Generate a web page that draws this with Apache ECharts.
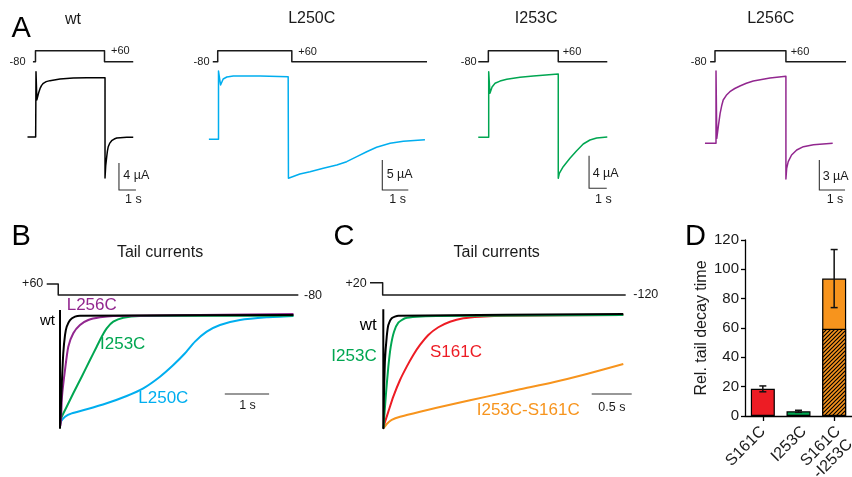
<!DOCTYPE html>
<html>
<head>
<meta charset="utf-8">
<script src="https://cdn.jsdelivr.net/npm/echarts@6/dist/echarts.min.js"></script>
<style>html,body{margin:0;padding:0;background:#fff}#chart{width:852px;height:477px}</style>
</head>
<body>
<div id="chart"></div>
<script>
// ===================== DATA =====================
// Panel A: current traces, [time (s), current (µA)]
const wtTraceA = [[-0.5,0],[-0.02,0],[0,9.67],[0.05,5.5],[0.08,5.78],[0.16,6.6],[0.24,7.2],[0.33,7.65],[0.43,7.95],[0.6,8.2],[0.82,8.35],[1.41,8.6],[2.19,8.74],[2.98,8.79],[4.06,8.79],[4.06,-6.07],[4.1,-4.3],[4.16,-2.92],[4.2,-2.1],[4.25,-1.44],[4.33,-0.95],[4.45,-0.55],[4.6,-0.3],[4.75,-0.15],[5.34,-0.05],[5.72,-0.05]];
const l250cTraceA = [[-0.37,0],[0,0],[0,11.38],[0.08,9.05],[0.18,10.05],[0.32,10.38],[0.57,10.55],[1.6,10.55],[2.68,10.43],[2.69,-6.5],[2.75,-6.23],[3.13,-5.78],[3.52,-5.4],[4.03,-4.83],[4.55,-4.28],[4.93,-3.73],[5.32,-2.9],[5.7,-2.07],[6.08,-1.33],[6.6,-0.67],[7.11,-0.33],[7.94,-0.07]];
const i253cTraceA = [[-0.59,0],[0,0],[0,8.05],[0.07,5.4],[0.19,6.17],[0.36,6.63],[0.64,6.9],[1.02,7.12],[1.77,7.36],[2.52,7.52],[3.93,7.77],[3.93,-5.03],[3.99,-4.42],[4.21,-3.61],[4.59,-2.58],[4.97,-1.64],[5.34,-0.82],[5.72,-0.33],[6.1,-0.09],[6.7,0.04]];
const l256cTraceA = [[-0.41,0],[0.02,0],[0.02,7.23],[0.05,0.5],[0.07,0.66],[0.12,1.9],[0.18,3.0],[0.24,3.75],[0.3,4.33],[0.42,4.8],[0.56,5.16],[0.75,5.48],[0.95,5.73],[1.2,6.0],[1.47,6.23],[2.12,6.53],[2.74,6.7],[2.74,-3.57],[2.77,-2.5],[2.83,-1.84],[2.96,-1.17],[3.16,-0.67],[3.42,-0.34],[3.81,-0.14],[4.56,0]];
// Panel A: voltage protocols, [time (s), mV]
const wtProtocolA = [[-0.18,-80],[-0.03,-80],[-0.03,60],[4.03,60],[4.03,-80],[5.72,-80]];
const l250cProtocolA = [[-0.22,-80],[-0.03,-80],[-0.03,60],[2.82,60],[2.82,-80],[8.02,-80]];
const i253cProtocolA = [[-0.59,-80],[-0.02,-80],[-0.02,60],[3.93,60],[3.93,-80],[6.7,-80]];
const l256cProtocolA = [[-0.21,-80],[-0.02,-80],[-0.02,60],[2.74,60],[2.74,-80],[5.08,-80]];
// Panel A: scale bars, [time (s), µA]  (vertical: 4/5/4/3 µA, horizontal: 1 s)
const wtScaleA = [[4.88,-3.85],[4.88,-7.85],[5.88,-7.85]];
const l250cScaleA = [[6.3,-3.45],[6.3,-8.45],[7.3,-8.45]];
const i253cScaleA = [[5.67,-2.26],[5.67,-6.26],[6.67,-6.26]];
const l256cScaleA = [[4.04,-1.67],[4.04,-4.67],[5.04,-4.67]];

// Panel B: normalized tail currents, [time (s), normalized current]
const wtTailB = [[0,0.054],[0,-1.0],[0.038,-0.63],[0.074,-0.333],[0.113,-0.17],[0.151,-0.096],[0.226,-0.036],[0.339,-0.006],[0.451,0.003],[5.27,0.009]];
const l256cTailB = [[0.01,-0.98],[0.023,-0.929],[0.045,-0.72],[0.113,-0.482],[0.187,-0.274],[0.3,-0.154],[0.451,-0.08],[0.639,-0.036],[0.903,-0.012],[1.2,0],[5.27,0.018]];
const i253cTailB = [[0.01,-0.96],[0.023,-0.914],[0.151,-0.81],[0.3,-0.69],[0.49,-0.542],[0.677,-0.393],[0.828,-0.274],[0.941,-0.185],[1.054,-0.11],[1.203,-0.051],[1.429,-0.015],[1.806,0],[5.27,0.003]];
const l250cTailB = [[0.005,-0.96],[0.016,-0.944],[0.113,-0.899],[0.264,-0.869],[0.603,-0.833],[1.054,-0.779],[1.505,-0.714],[1.88,-0.646],[2.257,-0.542],[2.558,-0.438],[2.822,-0.333],[3.047,-0.229],[3.312,-0.14],[3.612,-0.08],[4.063,-0.036],[4.665,-0.012],[5.267,0]];
const protocolB = [[-0.3,60],[-0.04,60],[-0.04,-80],[5.38,-80]];
const scaleB = [[3.72,-0.696],[4.72,-0.696]];   // 1 s

// Panel C: normalized tail currents
const wtTailC = [[0,0.06],[0,-1.0],[0.009,-0.688],[0.021,-0.392],[0.043,-0.184],[0.063,-0.08],[0.105,-0.02],[0.188,0.003],[3.0,0.018]];
const i253cTailC = [[0.003,-1.0],[0.009,-0.926],[0.034,-0.688],[0.063,-0.451],[0.093,-0.273],[0.134,-0.14],[0.188,-0.06],[0.271,-0.02],[0.417,-0.006],[0.667,0],[3.0,0.009]];
const s161cTailC = [[0.003,-1.0],[0.009,-0.971],[0.063,-0.852],[0.125,-0.718],[0.209,-0.57],[0.293,-0.451],[0.375,-0.347],[0.459,-0.258],[0.563,-0.169],[0.688,-0.1],[0.834,-0.051],[1.0,-0.02],[1.209,-0.006],[1.543,0.003],[3.0,0.009]];
const doubleTailC = [[0.003,-1.0],[0.043,-0.962],[0.105,-0.926],[0.209,-0.897],[0.459,-0.852],[0.875,-0.784],[1.293,-0.718],[1.709,-0.653],[2.125,-0.59],[2.543,-0.516],[3.0,-0.427]];
const protocolC = [[-0.166,20],[-0.008,20],[-0.008,-120],[3.03,-120]];
const scaleC = [[2.605,-0.695],[3.105,-0.695]];  // 0.5 s

// Panel D: relative tail decay time
const decayCategories = ['S161C', 'I253C', 'S161C\n-I253C'];
const decayMean = [18.5, 3.2, 93.7];
const decayErr = [2.0, 0.7, 19.8];
const decayHatched = [null, null, 59.5];
const decayTicks = [0, 20, 40, 60, 80, 100, 120];

// ===================== STYLE / LAYOUT =====================
const C_WT = '#000000', C_L250 = '#00AEEF', C_I253 = '#00A651', C_L256 = '#92278F', C_S161 = '#ED1C24', C_DBL = '#F7941D';
const C_PROT = '#1a1a1a', C_TXT = '#1a1a1a';
const FONT = '"Liberation Sans", Arial, Helvetica, sans-serif';

const grids = [], xAxes = [], yAxes = [], series = [];
function panel(m) {
  const i = grids.length;
  grids.push({left: m.x0 + m.xmin * m.sx, top: m.y0 - m.ymax * m.sy,
              width: (m.xmax - m.xmin) * m.sx, height: (m.ymax - m.ymin) * m.sy, containLabel: false});
  xAxes.push({type: 'value', gridIndex: i, min: m.xmin, max: m.xmax, show: false});
  yAxes.push({type: 'value', gridIndex: i, min: m.ymin, max: m.ymax, show: false});
  return i;
}
function line(i, data, color, width, smooth) {
  series.push({type: 'line', xAxisIndex: i, yAxisIndex: i, data: data, symbol: 'none', showSymbol: false,
               smooth: smooth || false, clip: false, silent: true,
               lineStyle: {color: color, width: width, join: 'round'}});
}
const mvA = (y80, y60) => ({sy: (y80 - y60) / 140, y0: y80 - 80 * (y80 - y60) / 140});

// Panel A layouts
const aPanels = [
  {x0: 36,    sx: 17,   y0: 137,   sy: 6.75, xmin: -0.8, xmax: 6.3, trace: wtTraceA,    prot: wtProtocolA,    scale: wtScaleA,    color: C_WT},
  {x0: 218.5, sx: 26,   y0: 139.3, sy: 6,    xmin: -0.5, xmax: 8.5, trace: l250cTraceA, prot: l250cProtocolA, scale: l250cScaleA, color: C_L250},
  {x0: 488.7, sx: 17.7, y0: 137.3, sy: 8.15, xmin: -0.7, xmax: 7.0, trace: i253cTraceA, prot: i253cProtocolA, scale: i253cScaleA, color: C_I253},
  {x0: 715.5, sx: 25.7, y0: 143.3, sy: 10,   xmin: -0.5, xmax: 5.3, trace: l256cTraceA, prot: l256cProtocolA, scale: l256cScaleA, color: C_L256}
];
const pv = mvA(61.7, 50.7);
aPanels.forEach(p => {
  const gi = panel({x0: p.x0, sx: p.sx, xmin: p.xmin, xmax: p.xmax, y0: p.y0, sy: p.sy, ymin: -10, ymax: 12});
  line(gi, p.trace, p.color, 1.5, false);
  line(gi, p.scale, '#333', 1.1);
  const gv = panel({x0: p.x0, sx: p.sx, xmin: p.xmin, xmax: p.xmax, y0: pv.y0, sy: pv.sy, ymin: -100, ymax: 80});
  line(gv, p.prot, C_PROT, 1.5);
});

// Panel B
const gB = panel({x0: 60, sx: 44.3, xmin: -0.3, xmax: 5.6, y0: 316, sy: 112, ymin: -1.1, ymax: 0.2});
line(gB, l250cTailB, C_L250, 2, 0.2);
line(gB, i253cTailB, C_I253, 2, 0.2);
line(gB, l256cTailB, C_L256, 2, 0.2);
line(gB, wtTailB, C_WT, 2, 0.2);
line(gB, scaleB, '#333', 1.1);
const pB = mvA(295, 284);
const gBv = panel({x0: 60, sx: 44.3, xmin: -0.5, xmax: 5.6, y0: pB.y0, sy: pB.sy, ymin: -100, ymax: 80});
line(gBv, protocolB, C_PROT, 1.5);

// Panel C
const gC = panel({x0: 383.3, sx: 80, xmin: -0.2, xmax: 3.2, y0: 316, sy: 112.3, ymin: -1.1, ymax: 0.2});
line(gC, doubleTailC, C_DBL, 2, 0.2);
line(gC, s161cTailC, C_S161, 2, 0.2);
line(gC, i253cTailC, C_I253, 2, 0.2);
line(gC, wtTailC, C_WT, 2, 0.2);
line(gC, scaleC, '#333', 1.1);
const syC = 12.3 / 140;
const gCv = panel({x0: 383.3, sx: 80, xmin: -0.2, xmax: 3.2, y0: 295 - 120 * syC, sy: syC, ymin: -140, ymax: 40});
line(gCv, protocolC, C_PROT, 1.5);

// Panel D (bar chart)
const gD = grids.length;
grids.push({left: 745, top: 240, width: 117.6, height: 176, containLabel: false});
xAxes.push({type: 'category', gridIndex: gD, data: decayCategories, boundaryGap: true,
  axisLine: {show: true, lineStyle: {color: '#000', width: 1.3}},
  axisTick: {show: true, alignWithLabel: true, length: 5, lineStyle: {color: '#000', width: 1.3}},
  axisLabel: {show: false}});
yAxes.push({type: 'value', gridIndex: gD, min: decayTicks[0], max: decayTicks[decayTicks.length - 1],
  interval: decayTicks[1] - decayTicks[0],
  name: 'Rel. tail decay time', nameLocation: 'middle', nameGap: 34,
  nameTextStyle: {color: C_TXT, fontSize: 16, fontFamily: FONT},
  axisLine: {show: true, lineStyle: {color: '#000', width: 1.3}},
  axisTick: {show: true, length: 4, lineStyle: {color: '#000', width: 1.3}},
  splitLine: {show: false},
  axisLabel: {margin: 6, color: C_TXT, fontSize: 15, fontFamily: FONT}});

function hatchPattern() {
  const s = 4, c = document.createElement('canvas');
  c.width = c.height = s;
  const g = c.getContext('2d');
  g.fillStyle = C_DBL; g.fillRect(0, 0, s, s);
  g.strokeStyle = '#000'; g.lineWidth = 1.2;
  g.beginPath();
  g.moveTo(0, s); g.lineTo(s, 0);
  g.moveTo(-1, 1); g.lineTo(1, -1);
  g.moveTo(s - 1, s + 1); g.lineTo(s + 1, s - 1);
  g.stroke();
  return c;
}
const barColors = [C_S161, C_I253, C_DBL];
series.push({type: 'bar', xAxisIndex: gD, yAxisIndex: gD, barWidth: 24, silent: true,
  data: decayMean.map((v, i) => ({value: v, itemStyle: {color: barColors[i]}})),
  itemStyle: {borderColor: '#000', borderWidth: 1.2}});
series.push({type: 'bar', xAxisIndex: gD, yAxisIndex: gD, barWidth: 24, barGap: '-100%', silent: true, z: 3,
  data: decayHatched,
  itemStyle: {color: {image: hatchPattern(), repeat: 'repeat'}, borderColor: '#000', borderWidth: 1.2}});
series.push({type: 'custom', xAxisIndex: gD, yAxisIndex: gD, silent: true, z: 5,
  data: decayMean.map((m, i) => [i, m, decayErr[i]]),
  renderItem: function (params, api) {
    const x = api.value(0), m = api.value(1), e = api.value(2);
    const t = api.coord([x, m + e]), b = api.coord([x, m - e]);
    const hw = 3.5, st = {stroke: '#111', lineWidth: 1.5};
    return {type: 'group', children: [
      {type: 'line', shape: {x1: t[0], y1: t[1], x2: b[0], y2: b[1]}, style: st},
      {type: 'line', shape: {x1: t[0] - hw, y1: t[1], x2: t[0] + hw, y2: t[1]}, style: st},
      {type: 'line', shape: {x1: b[0] - hw, y1: b[1], x2: b[0] + hw, y2: b[1]}, style: st}
    ]};
  }});

// Text annotations
function txt(text, x, y, size, color, align, rotation) {
  return {type: 'text', x: x, y: y, rotation: rotation || 0, silent: true, z: 100,
    style: {text: text, fill: color || C_TXT, font: size + 'px ' + FONT,
            align: align || 'left', verticalAlign: 'middle', textAlign: align || 'left', textVerticalAlign: 'middle'}};
}
const texts = [
  txt('A', 11.5, 29, 29, '#000'), txt('B', 11.5, 237, 29, '#000'), txt('C', 333.5, 237, 29, '#000'), txt('D', 685, 237, 29, '#000'),
  txt('wt', 65, 19.5, 16), txt('L250C', 311.7, 19, 16, null, 'center'), txt('I253C', 536.2, 19, 16, null, 'center'), txt('L256C', 770.8, 19, 16, null, 'center'),
  txt('-80', 25.5, 62, 11, null, 'right'), txt('+60', 111, 50.5, 11),
  txt('-80', 209.5, 62, 11, null, 'right'), txt('+60', 298.3, 52, 11),
  txt('-80', 476.7, 62, 11, null, 'right'), txt('+60', 562.7, 51.5, 11),
  txt('-80', 706.7, 62, 11, null, 'right'), txt('+60', 790.7, 51.5, 11),
  txt('4 µA', 123.3, 175.5, 12.5), txt('1 s', 125, 200, 12.5),
  txt('5 µA', 386.7, 175, 12.5), txt('1 s', 389.3, 200, 12.5),
  txt('4 µA', 592.7, 174, 12.5), txt('1 s', 595, 199.7, 12.5),
  txt('3 µA', 822.7, 176.5, 12.5), txt('1 s', 826.7, 200, 12.5),
  txt('Tail currents', 160, 253, 16, null, 'center'), txt('Tail currents', 496.7, 253, 16, null, 'center'),
  txt('+60', 43.3, 284, 12.5, null, 'right'), txt('-80', 304, 296, 12.5),
  txt('L256C', 66.7, 305.5, 17, C_L256), txt('wt', 55, 320.5, 15, '#000', 'right'),
  txt('I253C', 100, 344, 17, C_I253), txt('L250C', 138.3, 398.3, 17, C_L250), txt('1 s', 247.5, 406, 12.5, null, 'center'),
  txt('+20', 366.7, 284, 12.5, null, 'right'), txt('-120', 633.3, 294.5, 12.5),
  txt('wt', 376.7, 325, 17, '#000', 'right'), txt('I253C', 376.7, 356, 17, C_I253, 'right'),
  txt('S161C', 430, 352, 17, C_S161), txt('I253C-S161C', 476.7, 410, 17, C_DBL), txt('0.5 s', 598.3, 408, 12.5)
];
// Panel D category labels (rotated 45°), taken from decayCategories
const R45 = Math.PI / 4;
const catLines = decayCategories.map(c => c.split('\n'));
texts.push(txt(catLines[0][0], 763, 429, 16, C_TXT, 'right', R45));
texts.push(txt(catLines[1][0], 804, 429, 16, C_TXT, 'right', R45));
texts.push(txt(catLines[2][0], 838, 429, 16, C_TXT, 'right', R45));
texts.push(txt(catLines[2][1], 816, 476, 16, C_TXT, 'left', R45));

const chart = echarts.init(document.getElementById('chart'), null, {renderer: 'canvas'});
chart.setOption({animation: false, backgroundColor: '#ffffff', tooltip: {show: false},
  grid: grids, xAxis: xAxes, yAxis: yAxes, series: series, graphic: texts});
</script>
</body>
</html>
